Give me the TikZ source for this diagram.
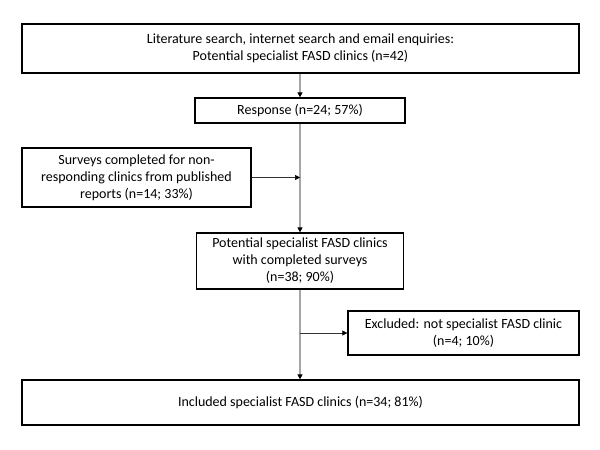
\documentclass[tikz,border=0pt]{standalone}
\usepackage{fontspec}
\setmainfont{Carlito}
\usetikzlibrary{arrows.meta}
\begin{document}
\begin{tikzpicture}[x=1pt,y=-1pt,
  box/.style={draw=black, line width=1.3pt, inner sep=0pt, align=center,
    font=\fontsize{14}{17}\selectfont},
  vline/.style={draw=black!35, line width=1.4pt,
    -{Triangle[length=5pt,width=5pt,color=black]}},
  hline/.style={draw=black!80, line width=0.6pt,
    -{Triangle[length=5pt,width=5pt,color=black]}}
]
\useasboundingbox (0,0) rectangle (600,450);
\node[box, minimum width=557, minimum height=49] (b1) at (300.5,48.5)
  {Literature search, internet search and email enquiries:\\Potential specialist FASD clinics (n=42)};
\node[box, minimum width=210, minimum height=25] (b2) at (300,110.5)
  {Response (n=24; 57\%)};
\node[box, minimum width=229, minimum height=59] (b3) at (136.5,177.5)
  {Surveys completed for non-\\responding clinics from published\\reports (n=14; 33\%)};
\node[box, minimum width=207, minimum height=56] (b4) at (300,261)
  {Potential specialist FASD clinics\\with completed surveys\\(n=38; 90\%)};
\node[box, minimum width=231, minimum height=44] (b5) at (463.5,333)
  {Excluded: not specialist FASD clinic\\(n=4; 10\%)};
\node[box, minimum width=557, minimum height=45] (b6) at (300.5,402.5)
  {Included specialist FASD clinics (n=34; 81\%)};
\coordinate (j1) at (b3.east -| b2.south);
\coordinate (j2) at (b5.west -| b4.south);
\draw[vline] (b1.south -| b2.north) -- (b2.north);
\draw[vline] (b2.south) -- (b4.north);
\draw[vline] (b4.south) -- (b6.north -| b4.south);
\draw[hline] (b3.east) -- (j1);
\draw[hline] (j2) -- (b5.west);
\end{tikzpicture}
\end{document}
